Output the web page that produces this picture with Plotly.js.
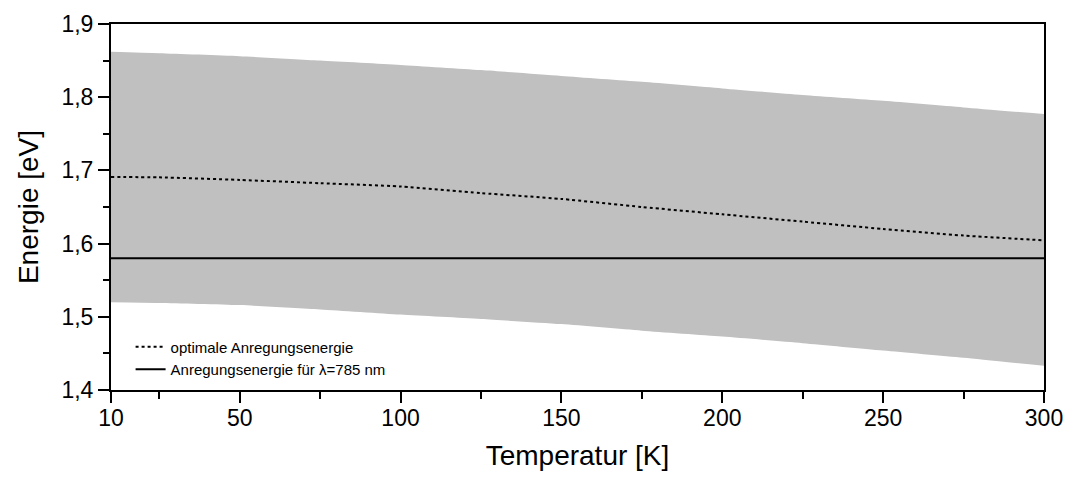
<!DOCTYPE html>
<html>
<head>
<meta charset="utf-8">
<script src="https://cdn.plot.ly/plotly-3.0.1.min.js"></script>
<style>html,body{margin:0;padding:0;background:#fff;}#chart{width:1066px;height:481px;}</style>
</head>
<body>
<div id="chart"></div>
<script>
// Temperature [K]
const temperature = [10, 25, 50, 75, 100, 125, 150, 175, 200, 225, 250, 275, 300];
// optimal excitation energy (dotted)
const optimalEnergy = [1.691, 1.6905, 1.687, 1.6825, 1.678, 1.669, 1.661, 1.650, 1.640, 1.630, 1.620, 1.611, 1.6045];
// band upper / lower edges (grey area)
const bandUpper = [1.862, 1.860, 1.856, 1.850, 1.844, 1.837, 1.829, 1.821, 1.812, 1.803, 1.795, 1.786, 1.777];
const bandLower = [1.520, 1.519, 1.516, 1.510, 1.503, 1.497, 1.490, 1.481, 1.473, 1.464, 1.454, 1.444, 1.433];
// laser excitation energy for 785 nm
const laserT = [10, 300];
const laserEnergy = [1.58, 1.58];
const xTickVals = [10, 50, 100, 150, 200, 250, 300];
const yTickVals = [1.4, 1.5, 1.6, 1.7, 1.8, 1.9];

const FONT = '"Liberation Sans", Arial, sans-serif';

const traces = [
  {x: temperature, y: bandLower, type: 'scatter', mode: 'lines', line: {width: 0, color: '#c0c0c0', shape: 'spline', smoothing: 0.6}, showlegend: false, hoverinfo: 'skip'},
  {x: temperature, y: bandUpper, type: 'scatter', mode: 'lines', fill: 'tonexty', fillcolor: '#c0c0c0', line: {width: 0, color: '#c0c0c0', shape: 'spline', smoothing: 0.6}, showlegend: false, hoverinfo: 'skip'},
  {x: temperature, y: optimalEnergy, type: 'scatter', mode: 'lines', name: 'optimale Anregungsenergie', line: {color: '#000', width: 2, dash: 'dot', shape: 'spline', smoothing: 0.6}},
  {x: laserT, y: laserEnergy, type: 'scatter', mode: 'lines', name: 'Anregungsenergie für λ=785 nm', line: {color: '#000', width: 2}}
];

const layout = {
  width: 1066, height: 481,
  margin: {l: 111, r: 22, t: 24, b: 91, pad: 0},
  paper_bgcolor: '#fff', plot_bgcolor: '#fff',
  font: {family: FONT, color: '#000', size: 23},
  separators: ',.',
  showlegend: true,
  legend: {x: 0.021, y: 0.012, xanchor: 'left', yanchor: 'bottom', traceorder: 'normal', bgcolor: 'rgba(0,0,0,0)', font: {family: FONT, size: 15, color: '#000'}, tracegroupgap: 0, itemwidth: 30},
  xaxis: {
    range: [10, 300], tickmode: 'array', tickvals: xTickVals, ticktext: xTickVals.map(String),
    showgrid: false, zeroline: false, showline: true, linecolor: '#000', linewidth: 2, mirror: true,
    ticks: 'outside', ticklen: 11, tickwidth: 2, tickcolor: '#000', ticklabelstandoff: -5,
    tickfont: {family: FONT, size: 23, color: '#000'},
    minor: {tick0: 25, dtick: 50, ticks: 'outside', ticklen: 7, tickwidth: 2, tickcolor: '#000', showgrid: false},
    title: {text: 'Temperatur [K]', font: {family: FONT, size: 28, color: '#000'}, standoff: 16}
  },
  yaxis: {
    range: [1.4, 1.9], tickmode: 'array', tickvals: yTickVals, ticktext: yTickVals.map(v => v.toFixed(1).replace('.', ',')),
    showgrid: false, zeroline: false, showline: true, linecolor: '#000', linewidth: 2, mirror: true,
    ticks: 'outside', ticklen: 11, tickwidth: 2, tickcolor: '#000',
    tickfont: {family: FONT, size: 23, color: '#000'},
    minor: {tick0: 1.45, dtick: 0.1, ticks: 'outside', ticklen: 6, tickwidth: 2, tickcolor: '#000', showgrid: false},
    title: {text: 'Energie [eV]', font: {family: FONT, size: 28, color: '#000'}, standoff: 15}
  }
};

Plotly.newPlot('chart', traces, layout, {displayModeBar: false, staticPlot: true});
</script>
</body>
</html>
